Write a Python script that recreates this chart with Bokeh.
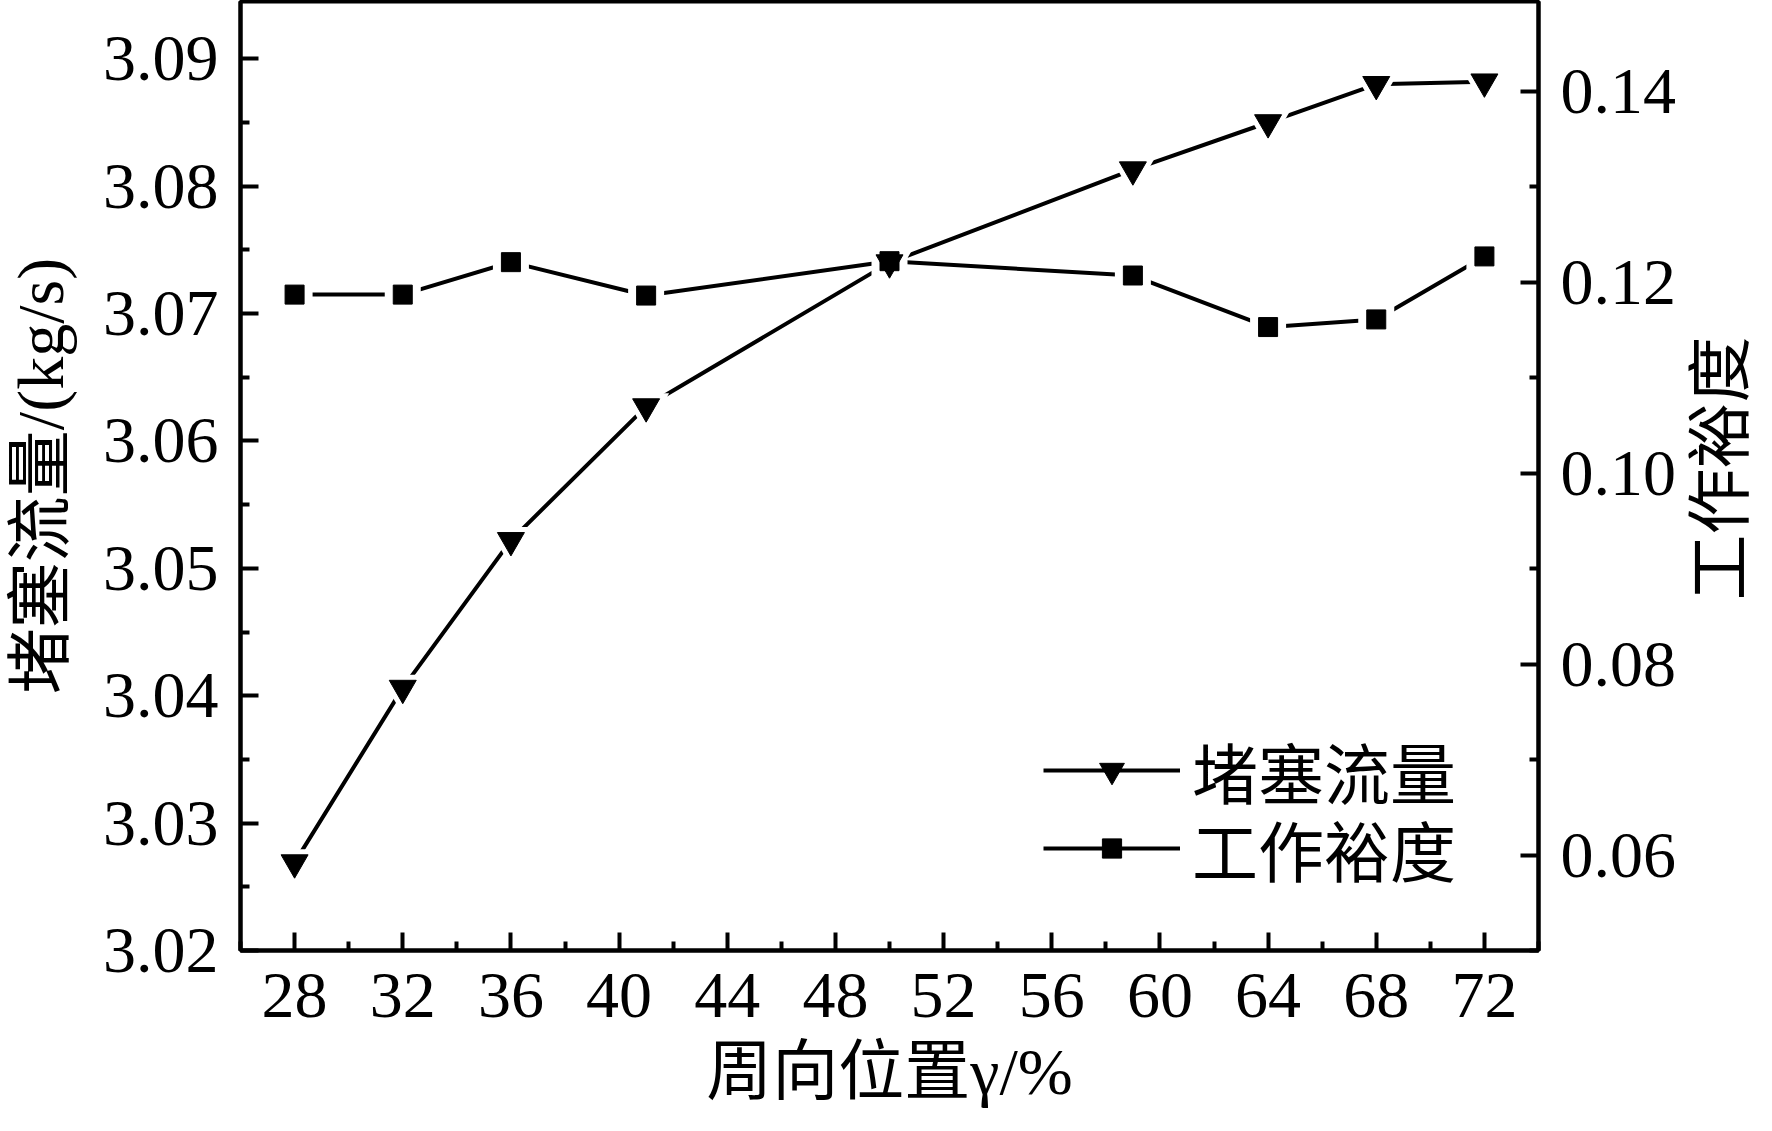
import math
from bokeh.plotting import figure
from bokeh.layouts import row
from bokeh.models import (Range1d, LinearAxis, FixedTicker, PrintfTickFormatter,
                          Legend, LegendItem, ColumnDataSource, Label)
from bokeh.embed import file_html
from bokeh.resources import INLINE

# ---- data ----
positions = [28, 32, 36, 41, 50, 59, 64, 68, 72]
choke_flow = [3.0269, 3.0406, 3.0522, 3.0627, 3.0740, 3.0813, 3.0850, 3.0880, 3.0882]
work_margin = [0.1187, 0.1187, 0.1221, 0.1186, 0.1222, 0.1207, 0.1153, 0.1161, 0.1227]
x_ticks = [28, 32, 36, 40, 44, 48, 52, 56, 60, 64, 68, 72]
x_minor = [26, 30, 34, 38, 42, 46, 50, 54, 58, 62, 66, 70, 74]
left_ticks = [3.02, 3.03, 3.04, 3.05, 3.06, 3.07, 3.08, 3.09]
left_minor = [3.025, 3.035, 3.045, 3.055, 3.065, 3.075, 3.085]
right_ticks = [0.06, 0.08, 0.10, 0.12, 0.14]
right_minor = [0.05, 0.07, 0.09, 0.11, 0.13, 0.15]
label_flow = "堵塞流量"
label_margin = "工作裕度"
x_title = "周向位置γ/%"
left_title = "堵塞流量/(kg/s)"
right_title = "工作裕度"

FONT = "Liberation Serif, Noto Sans CJK SC"
src = ColumnDataSource(dict(x=positions, flow=choke_flow, margin=work_margin))

MAIN_W = 1680
TOTAL_W = 1756
TOTAL_H = 1115

p = figure(frame_width=1298, frame_height=949, output_backend="svg",
           toolbar_location=None,
           x_range=Range1d(26, 74), y_range=Range1d(3.02, 3.0945),
           min_border_left=232, min_border_right=MAIN_W - 232 - 1298,
           min_border_top=1, min_border_bottom=TOTAL_H - 1 - 949)
p.extra_y_ranges = {"right": Range1d(0.05, 0.1494)}
p.grid.visible = False
p.outline_line_color = "black"
p.outline_line_width = 4
p.background_fill_color = "white"
p.border_fill_color = "white"

def style_axis(ax, ticks, minor, fmt, standoff, label_standoff):
    ax.ticker = FixedTicker(ticks=ticks, minor_ticks=minor)
    if fmt:
        ax.formatter = PrintfTickFormatter(format=fmt)
    ax.axis_line_width = 4
    ax.axis_line_color = "black"
    ax.major_tick_in = 18
    ax.major_tick_out = 0
    ax.minor_tick_in = 9
    ax.minor_tick_out = 0
    ax.major_tick_line_width = 4
    ax.minor_tick_line_width = 4
    ax.major_label_text_font = FONT
    ax.major_label_text_font_size = "66px"
    ax.major_label_text_color = "black"
    ax.major_label_standoff = standoff
    ax.axis_label_text_font = FONT
    ax.axis_label_text_font_size = "66px"
    ax.axis_label_text_font_style = "normal"
    ax.axis_label_text_color = "black"
    ax.axis_label_standoff = label_standoff

xa = p.xaxis[0]
style_axis(xa, x_ticks, x_minor, None, 23, 15)
xa.axis_label = x_title
ya = p.yaxis[0]
style_axis(ya, left_ticks, left_minor, "%.2f", 22, 23)
ya.axis_label = left_title

ra = LinearAxis(y_range_name="right")
style_axis(ra, right_ticks, right_minor, "%.2f", 22, 0)
p.add_layout(ra, "right")

# lines
l1 = p.line("x", "flow", source=src, line_color="black", line_width=4)
l2 = p.line("x", "margin", source=src, line_color="black", line_width=4,
            y_range_name="right")
# white halos producing gaps between lines and markers
p.scatter("x", "flow", source=src, marker="inverted_triangle", size=46,
          fill_color="white", line_color=None)
p.scatter("x", "margin", source=src, marker="square", size=36,
          fill_color="white", line_color=None, y_range_name="right")
m1 = p.scatter("x", "flow", source=src, marker="inverted_triangle", size=27,
               fill_color="black", line_color="black", line_width=1)
m2 = p.scatter("x", "margin", source=src, marker="square", size=19,
               fill_color="black", line_color="black", line_width=1,
               y_range_name="right")

def make_legend(label, rends, y, gh):
    lg = Legend(items=[LegendItem(label=label, renderers=rends)],
                location=(803, y), orientation="vertical")
    lg.label_text_font = FONT
    lg.label_text_font_size = "66px"
    lg.label_text_color = "black"
    lg.glyph_width = 137
    lg.glyph_height = gh
    lg.label_height = 60
    lg.spacing = 0
    lg.padding = 0
    lg.margin = 0
    lg.label_standoff = 12
    lg.border_line_color = None
    lg.background_fill_alpha = 0
    p.add_layout(lg)

make_legend(label_flow, [l1, m1], 132, 62)
make_legend(label_margin, [l2, m2], 54, 48)

# right title strip (text reads bottom-to-top)
pr = figure(frame_width=TOTAL_W - MAIN_W, frame_height=TOTAL_H,
            output_backend="svg", toolbar_location=None,
            x_range=Range1d(0, 1), y_range=Range1d(0, 1),
            x_axis_location=None, y_axis_location=None, min_border=0)
pr.grid.visible = False
pr.outline_line_color = None
pr.background_fill_color = "white"
pr.border_fill_color = "white"
pr.add_layout(Label(x=32, y=TOTAL_H - 467, x_units="screen", y_units="screen",
                    text=right_title, angle=math.pi / 2, text_align="center",
                    text_baseline="middle", text_font=FONT,
                    text_font_size="66px", text_color="black"))

layout = row(p, pr, spacing=0)
open("out.html", "w").write(file_html(layout, INLINE))
